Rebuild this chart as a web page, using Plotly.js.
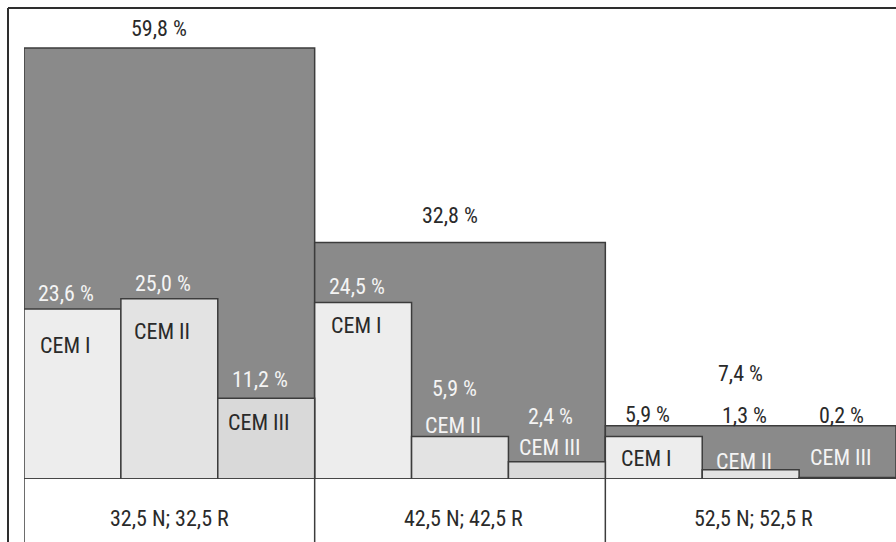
<!DOCTYPE html>
<html>
<head>
<meta charset="utf-8">
<script src="https://cdn.plot.ly/plotly-3.0.1.min.js"></script>
<style>
  html, body { margin: 0; padding: 0; background: #ffffff; }
  #chart { width: 896px; height: 542px; }
</style>
</head>
<body>
<div id="chart"></div>
<script>
// Strength classes and their total share of cement output (%)
const classes = ['32,5 N; 32,5 R', '42,5 N; 42,5 R', '52,5 N; 52,5 R'];
const classTotals = [59.8, 32.8, 7.4];

// Cement types within each strength class
const cementTypes = ['CEM I', 'CEM II', 'CEM III'];
const cemI   = [23.6, 24.5, 5.9];
const cemII  = [25.0, 5.9, 1.3];
const cemIII = [11.2, 2.4, 0.2];

const fmt = v => v.toFixed(1).replace('.', ',') + ' %';

// ---- drawing parameters ----
const W = 896, H = 542;
const margin = { l: 24, r: 0, t: 8, b: 63 };
const plotH = H - margin.t - margin.b;
const plotW = W - margin.l - margin.r;
const yMax = 65.35;
const FONT = '"Liberation Sans Narrow", "Arial Narrow", "Roboto Condensed", "DejaVu Sans Condensed", "Liberation Sans", sans-serif';
const FS = 22;
const DARK_TXT = '#2a2a2a';
const LIGHT_TXT = '#f4f4f4';
const OUTLINE = '#3c3c3c';
const typeFill = ['#ededed', '#e3e3e3', '#d9d9d9'];

const series = [cemI, cemII, cemIII];
const traces = [];

// Large bars: total per strength class
traces.push({
  type: 'bar',
  x: classes.map((_, i) => i + 0.5),
  y: classTotals,
  width: classes.map(() => 1),
  marker: { color: '#8a8a8a', line: { color: OUTLINE, width: 1.5 } },
  hoverinfo: 'skip'
});

// Narrow bars: cement types inside each class
series.forEach((vals, k) => {
  traces.push({
    type: 'bar',
    x: classes.map((_, i) => i + (k + 0.5) / 3),
    y: vals,
    width: classes.map(() => 1 / 3),
    marker: { color: typeFill[k], line: { color: OUTLINE, width: 1.5 } },
    hoverinfo: 'skip'
  });
});

// Label placement (pixels, relative to bar top; positive is upward)
const totalShift = [20, 27, 52];
const pctShift = [
  [15, 16, 22],   // CEM I
  [15, 48, 54],   // CEM II
  [19, 45, 62]    // CEM III
];
const typeShift = [
  [-37, -23, -22],
  [-33, 11, 8],
  [-24, 14, 20]
];
// Label colour: true = light text on the dark bar
const pctLight = [
  [true, true, false],
  [true, true, false],
  [true, true, false]
];
const typeLight = [
  [false, false, false],
  [false, true, true],
  [false, true, true]
];

const annotations = [];
classTotals.forEach((v, i) => {
  annotations.push({
    x: i + 0.5, y: v, xref: 'x', yref: 'y',
    text: fmt(v), showarrow: false,
    yanchor: 'middle', yshift: totalShift[i], xshift: -10,
    font: { family: FONT, size: FS, color: DARK_TXT }
  });
});
series.forEach((vals, k) => {
  vals.forEach((v, i) => {
    const xc = i + (k + 0.5) / 3;
    annotations.push({
      x: xc, y: v, xref: 'x', yref: 'y',
      text: fmt(v), showarrow: false,
      yanchor: 'middle', yshift: pctShift[k][i], xshift: -6,
      font: { family: FONT, size: FS, color: pctLight[k][i] ? LIGHT_TXT : DARK_TXT }
    });
    annotations.push({
      x: xc, y: v, xref: 'x', yref: 'y',
      text: cementTypes[k], showarrow: false,
      yanchor: 'middle', yshift: typeShift[k][i], xshift: -7,
      font: { family: FONT, size: FS, color: typeLight[k][i] ? LIGHT_TXT : DARK_TXT }
    });
  });
});
// Strength class names in the row below the bars
classes.forEach((c, i) => {
  annotations.push({
    x: i + 0.5, y: 0, xref: 'x', yref: 'y',
    text: c, showarrow: false,
    yanchor: 'middle', yshift: -39, xshift: i === 0 ? 0 : 3,
    font: { family: FONT, size: FS, color: DARK_TXT }
  });
});

// Frame and row dividers
const frameX = (8 - margin.l) / plotW;
const bottomY = -margin.b / plotH;
const shapes = [
  { type: 'line', xref: 'paper', yref: 'paper', x0: frameX, x1: 1, y0: 1, y1: 1,
    line: { color: '#2e2e2e', width: 2 } },
  { type: 'line', xref: 'paper', yref: 'paper', x0: frameX, x1: frameX, y0: 1, y1: bottomY,
    line: { color: '#2e2e2e', width: 2 } },
  { type: 'line', xref: 'paper', yref: 'y', x0: 0, x1: 1, y0: 0, y1: 0,
    line: { color: OUTLINE, width: 1.5 } }
];
classes.forEach((_, i) => {
  shapes.push({ type: 'line', xref: 'x', yref: 'paper', x0: i, x1: i, y0: bottomY, y1: 0,
    line: { color: OUTLINE, width: 1.5 } });
});

const layout = {
  width: W, height: H,
  margin: margin,
  paper_bgcolor: '#ffffff',
  plot_bgcolor: '#ffffff',
  barmode: 'overlay',
  showlegend: false,
  xaxis: { range: [0, 3], showgrid: false, zeroline: false, showticklabels: false,
           ticks: '', showline: false, fixedrange: true },
  yaxis: { range: [0, yMax], showgrid: false, zeroline: false, showticklabels: false,
           ticks: '', showline: false, fixedrange: true },
  annotations: annotations,
  shapes: shapes
};

Plotly.newPlot('chart', traces, layout, { displayModeBar: false, staticPlot: true });
</script>
</body>
</html>
